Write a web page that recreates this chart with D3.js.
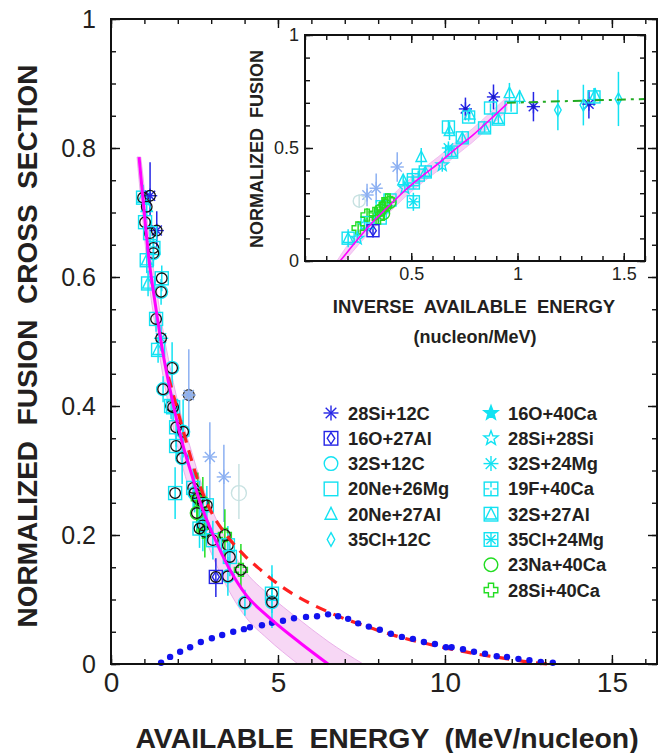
<!DOCTYPE html>
<html>
<head>
<meta charset="utf-8">
<script src="https://cdn.jsdelivr.net/npm/d3@7"></script>
<style>
  body { margin: 0; background: #fff; }
  svg text { font-family: "Liberation Sans", Arial, Helvetica, sans-serif; fill: #231f20; }
</style>
</head>
<body>
<div id="chart"></div>
<script>
// reactions (legend order), then two faded series not in the legend
const reactions = ["28Si+12C", "16O+27Al", "32S+12C", "20Ne+26Mg", "20Ne+27Al", "35Cl+12C",
  "16O+40Ca", "28Si+28Si", "32S+24Mg", "19F+40Ca", "32S+27Al", "35Cl+24Mg", "23Na+40Ca", "28Si+40Ca",
  "28Si+12C low", "32S+12C low"];
const symbols = ["ast", "sqdiam", "circle", "square", "tri", "diam", "starF", "star", "ast",
  "sqplus", "sqtri", "sqast", "circle", "cross", "ast", "circle"];
const colors = ["#2525e6", "#2525e6", "#12e2f2", "#12e2f2", "#12e2f2", "#12e2f2", "#12e2f2", "#12e2f2",
  "#12e2f2", "#12e2f2", "#12e2f2", "#12e2f2", "#22dd22", "#22dd22", "#8cb0f2", "#c8e2e2"];

// main panel: [E, sigma, errDown, errUp, reaction, ring]
const mainPoints = [
  [0.96, 0.723, 0.02, 0.02, 10, 1], [1.17, 0.726, 0.03, 0.052, 0, 1], [1.07, 0.709, 0.02, 0.02, 4, 1],
  [1.02, 0.685, 0.02, 0.02, 3, 1], [1.37, 0.672, 0.025, 0.03, 0, 1], [1.17, 0.668, 0.02, 0.02, 3, 1],
  [1.27, 0.645, 0.02, 0.02, 3, 1], [1.27, 0.637, 0.02, 0.02, 2, 1], [1.07, 0.626, 0.02, 0.02, 10, 0],
  [1.52, 0.598, 0.02, 0.02, 3, 1], [1.11, 0.59, 0.02, 0.02, 10, 0], [1.5, 0.577, 0.02, 0.02, 2, 1],
  [1.35, 0.535, 0.02, 0.02, 3, 1], [1.5, 0.505, 0.02, 0.02, 8, 1], [1.41, 0.487, 0.02, 0.02, 10, 0],
  [1.83, 0.459, 0.03, 0.04, 2, 1], [1.56, 0.426, 0.02, 0.02, 2, 1], [2.33, 0.417, 0.065, 0.071, 14, 2],
  [1.8, 0.40, 0.02, 0.02, 3, 1], [1.86, 0.398, 0.02, 0.02, 3, 1], [1.95, 0.367, 0.03, 0.03, 3, 1],
  [2.16, 0.36, 0.04, 0.05, 2, 1], [1.95, 0.338, 0.02, 0.02, 3, 1], [2.13, 0.319, 0.04, 0.04, 2, 1],
  [2.96, 0.321, 0.067, 0.054, 14, 0], [3.38, 0.29, 0.07, 0.05, 14, 0], [3.83, 0.265, 0.04, 0.045, 15, 0],
  [1.92, 0.265, 0.04, 0.04, 3, 1], [2.46, 0.273, 0.03, 0.03, 3, 1], [2.5, 0.265, 0.03, 0.03, 2, 1],
  [2.6, 0.257, 0.04, 0.04, 13, 1], [2.75, 0.25, 0.04, 0.04, 12, 1], [2.57, 0.234, 0.03, 0.04, 12, 1],
  [2.87, 0.246, 0.03, 0.03, 3, 1], [2.75, 0.215, 0.04, 0.04, 2, 1], [2.81, 0.205, 0.04, 0.04, 13, 1],
  [2.65, 0.21, 0.03, 0.03, 3, 1], [3.05, 0.192, 0.03, 0.03, 3, 1], [3.41, 0.2, 0.04, 0.04, 13, 1],
  [3.5, 0.184, 0.03, 0.03, 3, 1], [3.56, 0.166, 0.03, 0.03, 3, 1], [3.89, 0.146, 0.03, 0.04, 13, 1],
  [3.5, 0.136, 0.03, 0.03, 2, 1], [3.14, 0.135, 0.031, 0.029, 1, 1], [4.82, 0.109, 0.03, 0.03, 3, 1],
  [4.82, 0.096, 0.04, 0.057, 2, 1], [4.01, 0.095, 0.02, 0.02, 2, 1]
];

const fitMain = [[0.84, 0.786], [0.96, 0.72], [1.14, 0.626], [1.32, 0.56], [1.57, 0.478], [1.77, 0.425],
  [2.16, 0.338], [2.42, 0.293], [2.66, 0.252], [3.06, 0.2], [3.56, 0.146], [4.06, 0.106], [4.67, 0.075],
  [5.66, 0.033], [6.5, 0]];
const bandMainHi = [[0.89, 0.786], [0.96, 0.755], [1.14, 0.661], [1.32, 0.595], [1.57, 0.513], [1.77, 0.46],
  [2.16, 0.373], [2.42, 0.328], [2.66, 0.287], [3.06, 0.235], [3.56, 0.181], [4.06, 0.141], [4.67, 0.11],
  [5.66, 0.068], [6.5, 0.035], [7.55, 0]];
const bandMainLo = [[0.78, 0.786], [0.84, 0.751], [0.96, 0.685], [1.14, 0.591], [1.32, 0.525], [1.57, 0.443],
  [1.77, 0.39], [2.16, 0.303], [2.42, 0.258], [2.66, 0.217], [3.06, 0.165], [3.56, 0.111], [4.06, 0.071],
  [4.67, 0.04], [5.6, 0]];
const redDashed = [[1.72, 0.445], [2.0, 0.392], [2.3, 0.336], [2.6, 0.285], [3.0, 0.236], [3.5, 0.197],
  [4.0, 0.168], [4.5, 0.145], [5.0, 0.124], [5.5, 0.107], [6.0, 0.093], [6.5, 0.081], [7.0, 0.07],
  [7.5, 0.061], [8.0, 0.052], [8.5, 0.044], [9.0, 0.037], [9.5, 0.031], [10, 0.025], [10.5, 0.02],
  [11, 0.015], [11.5, 0.011], [12, 0.007], [12.5, 0.003], [13.1, 0]];
const blueDots = [[1.5, 0.002], [1.77, 0.011], [2.07, 0.019], [2.37, 0.026], [2.69, 0.034], [3.02, 0.040],
  [3.33, 0.045], [3.66, 0.050], [3.98, 0.054], [4.16, 0.057], [4.52, 0.060], [4.82, 0.064], [5.15, 0.067],
  [5.48, 0.071], [5.84, 0.073], [6.17, 0.074], [6.5, 0.077], [6.8, 0.074], [7.1, 0.070], [7.4, 0.063],
  [7.72, 0.058], [8.05, 0.053], [8.38, 0.047], [8.71, 0.042], [9.04, 0.039], [9.37, 0.034], [9.7, 0.031],
  [10.03, 0.026], [10.2, 0.026], [10.54, 0.023], [10.87, 0.019], [11.2, 0.016], [11.55, 0.012],
  [11.86, 0.011], [12.2, 0.008], [12.53, 0.006], [12.87, 0.003], [13.23, 0.002]];

// inset: [1/E, sigma, err, reaction]
const insetPoints = [
  [0.755, 0.673, 0.05, 0], [0.887, 0.726, 0.055, 0], [1.075, 0.683, 0.065, 0], [1.336, 0.694, 0.063, 0],
  [0.962, 0.743, 0.045, 4], [1.01, 0.726, 0.03, 4], [0.97, 0.68, 0.02, 3], [1.19, 0.668, 0.09, 5],
  [1.31, 0.69, 0.09, 5], [1.475, 0.717, 0.12, 5], [1.36, 0.726, 0.04, 3], [1.365, 0.735, 0.03, 4],
  [0.77, 0.637, 0.02, 3], [0.775, 0.648, 0.02, 4], [0.873, 0.677, 0.02, 3], [0.91, 0.628, 0.02, 10],
  [0.845, 0.589, 0.02, 10], [0.675, 0.593, 0.03, 3], [0.68, 0.575, 0.04, 4], [0.74, 0.545, 0.02, 10],
  [0.69, 0.482, 0.02, 10], [0.675, 0.50, 0.02, 8], [0.547, 0.46, 0.04, 4], [0.646, 0.425, 0.03, 7],
  [0.434, 0.416, 0.065, 14], [0.566, 0.394, 0.02, 10], [0.533, 0.38, 0.02, 3], [0.51, 0.345, 0.02, 9],
  [0.51, 0.36, 0.02, 3], [0.462, 0.358, 0.02, 4], [0.47, 0.323, 0.02, 7], [0.51, 0.262, 0.04, 11],
  [0.40, 0.27, 0.02, 3], [0.292, 0.292, 0.05, 14], [0.335, 0.322, 0.065, 14], [0.255, 0.265, 0.03, 15],
  [0.363, 0.24, 0.02, 3], [0.354, 0.19, 0.02, 3], [0.292, 0.17, 0.02, 3], [0.28, 0.16, 0.02, 7],
  [0.292, 0.203, 0.03, 13], [0.25, 0.146, 0.03, 13], [0.33, 0.21, 0.03, 13], [0.345, 0.19, 0.03, 13],
  [0.363, 0.235, 0.03, 13], [0.377, 0.248, 0.03, 13], [0.39, 0.27, 0.03, 13], [0.355, 0.225, 0.03, 12],
  [0.38, 0.245, 0.03, 12], [0.4, 0.26, 0.03, 12], [0.37, 0.21, 0.03, 12], [0.32, 0.134, 0.03, 1],
  [0.203, 0.101, 0.04, 10], [0.246, 0.10, 0.02, 7]
];
const fitInset = [[0.165, 0], [0.2, 0.04], [0.25, 0.098], [0.315, 0.168], [0.4, 0.248], [0.47, 0.312],
  [0.55, 0.375], [0.63, 0.433], [0.71, 0.497], [0.79, 0.557], [0.87, 0.625], [0.95, 0.695]];
const bandInsetHi = [[0.15, 0], [0.2, 0.07], [0.25, 0.13], [0.315, 0.2], [0.4, 0.28], [0.47, 0.343],
  [0.55, 0.405], [0.63, 0.463], [0.71, 0.527], [0.79, 0.587], [0.87, 0.655], [0.95, 0.725]];
const bandInsetLo = [[0.185, 0], [0.2, 0.015], [0.25, 0.07], [0.315, 0.138], [0.4, 0.218], [0.47, 0.282],
  [0.55, 0.345], [0.63, 0.403], [0.71, 0.467], [0.79, 0.527], [0.87, 0.595], [0.95, 0.665]];
const greenDashDot = [[0.95, 0.70], [1.6, 0.717]];

const mainXTicks = [0, 5, 10, 15];
const mainYTicks = [0, 0.2, 0.4, 0.6, 0.8, 1];
const insetXTicks = [0.5, 1, 1.5];
const insetYTicks = [0, 0.5, 1];

const W = 659, H = 753;
const svg = d3.select("#chart").append("svg").attr("width", W).attr("height", H);

const x = d3.scaleLinear().domain([0, 16.35]).range([111, 657]);
const y = d3.scaleLinear().domain([0, 1]).range([664, 19]);
const ix = d3.scaleLinear().domain([0, 1.6]).range([305, 645]);
const iy = d3.scaleLinear().domain([0, 1]).range([261, 35]);

function drawSymbol(g, type, cx, cy, color, s) {
  const grp = g.append("g").attr("transform", `translate(${cx},${cy})`)
    .attr("fill", "none").attr("stroke", color).attr("stroke-width", 1.4);
  const sq = () => grp.append("rect").attr("x", -s).attr("y", -s).attr("width", 2 * s).attr("height", 2 * s);
  const ast = (r) => [0, 45, 90, 135].forEach(a => {
    const t = a * Math.PI / 180;
    grp.append("line").attr("x1", -r * Math.cos(t)).attr("y1", -r * Math.sin(t))
      .attr("x2", r * Math.cos(t)).attr("y2", r * Math.sin(t));
  });
  const tri = (r) => grp.append("path").attr("d", `M0,${-r}L${r * 0.87},${r * 0.75}L${-r * 0.87},${r * 0.75}Z`);
  const starPath = (r) => {
    let p = "";
    for (let i = 0; i < 10; i++) {
      const rr = i % 2 ? r * 0.42 : r;
      const a = -Math.PI / 2 + i * Math.PI / 5;
      p += (i ? "L" : "M") + (rr * Math.cos(a)).toFixed(2) + "," + (rr * Math.sin(a)).toFixed(2);
    }
    return p + "Z";
  };
  if (type === "ast") ast(s * 1.1);
  if (type === "circle") grp.append("circle").attr("r", s);
  if (type === "square") sq();
  if (type === "tri") tri(s);
  if (type === "diam") grp.append("path").attr("d", `M0,${-s}L${s * 0.55},0L0,${s}L${-s * 0.55},0Z`);
  if (type === "sqdiam") { sq(); grp.append("path").attr("d", `M0,${-s * 0.85}L${s * 0.55},0L0,${s * 0.85}L${-s * 0.55},0Z`); }
  if (type === "starF") grp.append("path").attr("d", starPath(s * 1.1)).attr("fill", color);
  if (type === "star") grp.append("path").attr("d", starPath(s * 1.1));
  if (type === "sqplus") {
    sq();
    grp.append("path").attr("d", `M0,${-s}V${-s * 0.25}M0,${s}V${s * 0.25}M${-s},0H${-s * 0.25}M${s},0H${s * 0.25}`);
  }
  if (type === "sqtri") { sq(); tri(s * 0.95); }
  if (type === "sqast") { sq(); ast(s * 0.95); }
  if (type === "cross") {
    const a = s * 0.38;
    grp.append("path").attr("d",
      `M${-a},${-s}H${a}V${-a}H${s}V${a}H${a}V${s}H${-a}V${a}H${-s}V${-a}H${-a}Z`);
  }
}

const line = (sx, sy) => d3.line().x(d => sx(d[0])).y(d => sy(d[1])).curve(d3.curveMonotoneX);
const bandPath = (hi, lo, sx, sy) => {
  const l = d3.line().x(d => sx(d[0])).y(d => sy(d[1])).curve(d3.curveMonotoneX);
  const l2 = d3.line().x(d => sx(d[0])).y(d => sy(d[1])).curve(d3.curveMonotoneX);
  return l(hi) + "L" + l2(lo.slice().reverse()).slice(1) + "Z";
};

function axes(g, sx, sy, opt) {
  const [x0, x1] = sx.range(), [y0, y1] = sy.range();
  const add = (axis, tx, ty) => {
    const a = g.append("g").attr("transform", `translate(${tx},${ty})`).call(axis);
    a.select(".domain").remove();
    a.selectAll("line").attr("stroke", "#111").attr("stroke-width", 1.4);
    return a;
  };
  const none = () => "";
  add(d3.axisBottom(sx).tickValues(opt.xMinor).tickSize(-opt.minor).tickFormat(none), 0, y0);
  add(d3.axisTop(sx).tickValues(opt.xMinor).tickSize(-opt.minor).tickFormat(none), 0, y1);
  add(d3.axisLeft(sy).tickValues(opt.yMinor).tickSize(-opt.minor).tickFormat(none), x0, 0);
  add(d3.axisRight(sy).tickValues(opt.yMinor).tickSize(-opt.minor).tickFormat(none), x1, 0);
  add(d3.axisTop(sx).tickValues(opt.xMajor).tickSize(-opt.major).tickFormat(none), 0, y1);
  add(d3.axisRight(sy).tickValues(opt.yMajor).tickSize(-opt.major).tickFormat(none), x1, 0);
  const bx = add(d3.axisBottom(sx).tickValues(opt.xMajor).tickSize(-opt.major).tickPadding(opt.xPad)
    .tickFormat(d => String(d)), 0, y0);
  bx.selectAll("text").attr("font-size", opt.xFont).attr("fill", "#231f20");
  const ly = add(d3.axisLeft(sy).tickValues(opt.yMajor).tickSize(-opt.major).tickPadding(opt.yPad)
    .tickFormat(d => String(d)), x0, 0);
  ly.selectAll("text").attr("font-size", opt.yFont).attr("fill", "#231f20");
  g.selectAll(".tick text").attr("font-family", null);
  g.append("rect").attr("x", x0).attr("y", y1).attr("width", x1 - x0).attr("height", y0 - y1)
    .attr("fill", "none").attr("stroke", "#111").attr("stroke-width", 2);
}

// ---------- main panel ----------
const main = svg.append("g");
main.append("path").attr("d", bandPath(bandMainHi, bandMainLo, x, y))
  .attr("fill", "#f7d7f5").attr("stroke", "#eab0ea").attr("stroke-width", 1);

mainPoints.forEach(d => {
  const c = colors[d[4]];
  main.append("line").attr("x1", x(d[0])).attr("x2", x(d[0]))
    .attr("y1", y(d[1] - d[2])).attr("y2", y(d[1] + d[3]))
    .attr("stroke", c).attr("stroke-width", 1.5);
});
mainPoints.forEach(d => {
  if (d[5] === 2) {
    main.append("circle").attr("cx", x(d[0])).attr("cy", y(d[1])).attr("r", 5.5)
      .attr("fill", "#a9b7d6").attr("stroke", "#333").attr("stroke-width", 1.2);
  }
  drawSymbol(main, symbols[d[4]], x(d[0]), y(d[1]), colors[d[4]], d[4] === 15 ? 7.5 : 6.5);
  if (d[5] === 1) {
    main.append("circle").attr("cx", x(d[0])).attr("cy", y(d[1])).attr("r", 5.3)
      .attr("fill", "none").attr("stroke", "#111").attr("stroke-width", 1.3);
  }
});

main.append("path").attr("d", line(x, y)(redDashed)).attr("fill", "none")
  .attr("stroke", "#ff2020").attr("stroke-width", 3.2).attr("stroke-dasharray", "11,8");
main.selectAll(".bdot").data(blueDots).join("circle").attr("class", "bdot")
  .attr("cx", d => x(d[0])).attr("cy", d => y(d[1])).attr("r", 3.2).attr("fill", "#1212ee");
main.append("path").attr("d", line(x, y)(fitMain)).attr("fill", "none")
  .attr("stroke", "#ff00ff").attr("stroke-width", 3);

axes(main, x, y, {
  xMinor: d3.range(0, 17, 1), yMinor: d3.range(0, 1.001, 0.05), xMajor: mainXTicks, yMajor: mainYTicks,
  minor: 5, major: 9, xPad: 8, yPad: 15, xFont: 28, yFont: 25
});

// ---------- inset ----------
const inset = svg.append("g");
inset.append("rect").attr("x", ix(0)).attr("y", iy(1)).attr("width", ix(1.6) - ix(0))
  .attr("height", iy(0) - iy(1)).attr("fill", "#fff");
inset.append("path").attr("d", bandPath(bandInsetHi, bandInsetLo, ix, iy))
  .attr("fill", "#f7d0f5").attr("stroke", "#eeb6ee").attr("stroke-width", 0.8);
insetPoints.forEach(d => {
  inset.append("line").attr("x1", ix(d[0])).attr("x2", ix(d[0]))
    .attr("y1", iy(d[1] - d[2])).attr("y2", iy(d[1] + d[2]))
    .attr("stroke", colors[d[3]]).attr("stroke-width", 1.5);
});
insetPoints.forEach(d => {
  drawSymbol(inset, symbols[d[3]], ix(d[0]), iy(d[1]), colors[d[3]], 6);
  if (d[3] === 0) inset.append("circle").attr("cx", ix(d[0])).attr("cy", iy(d[1])).attr("r", 2.2).attr("fill", "#1a1acc");
});
inset.append("path").attr("d", line(ix, iy)(fitInset)).attr("fill", "none")
  .attr("stroke", "#ff00ff").attr("stroke-width", 1.6);
inset.append("path").attr("d", line(ix, iy)(greenDashDot)).attr("fill", "none")
  .attr("stroke", "#22aa22").attr("stroke-width", 2).attr("stroke-dasharray", "9,5,3,5");

axes(inset, ix, iy, {
  xMinor: d3.range(0, 1.61, 0.1), yMinor: d3.range(0, 1.001, 0.1), xMajor: insetXTicks, yMajor: insetYTicks,
  minor: 5, major: 8, xPad: 6, yPad: 6, xFont: 18, yFont: 18
});

// ---------- titles ----------
svg.append("text").attr("x", 387).attr("y", 748).attr("text-anchor", "middle")
  .attr("font-size", 28.4).attr("font-weight", "bold").style("white-space", "pre")
  .text("AVAILABLE  ENERGY  (MeV/nucleon)");
svg.append("text").attr("transform", "translate(37,346) rotate(-90)").attr("text-anchor", "middle")
  .attr("font-size", 28).attr("font-weight", "bold").style("white-space", "pre")
  .text("NORMALIZED  FUSION  CROSS  SECTION");
svg.append("text").attr("transform", "translate(263,149) rotate(-90)").attr("text-anchor", "middle")
  .attr("font-size", 18).attr("font-weight", "bold").style("white-space", "pre")
  .text("NORMALIZED  FUSION");
svg.append("text").attr("x", 474).attr("y", 313).attr("text-anchor", "middle")
  .attr("font-size", 18.5).attr("font-weight", "bold").style("white-space", "pre")
  .text("INVERSE  AVAILABLE  ENERGY");
svg.append("text").attr("x", 475).attr("y", 343).attr("text-anchor", "middle")
  .attr("font-size", 18).attr("font-weight", "bold").text("(nucleon/MeV)");

// ---------- legend ----------
const legend = svg.append("g");
reactions.slice(0, 14).forEach((name, i) => {
  const col = i < 6 ? 0 : 1;
  const row = col ? i - 6 : i;
  const cy = 413 + row * 25.3;
  const sx = col ? 491 : 331;
  drawSymbol(legend, symbols[i], sx, cy, colors[i], 6.8);
  legend.append("text").attr("x", sx + 17).attr("y", cy + 6.5)
    .attr("font-size", 18.3).attr("font-weight", "bold").text(name);
});
</script>
</body>
</html>
